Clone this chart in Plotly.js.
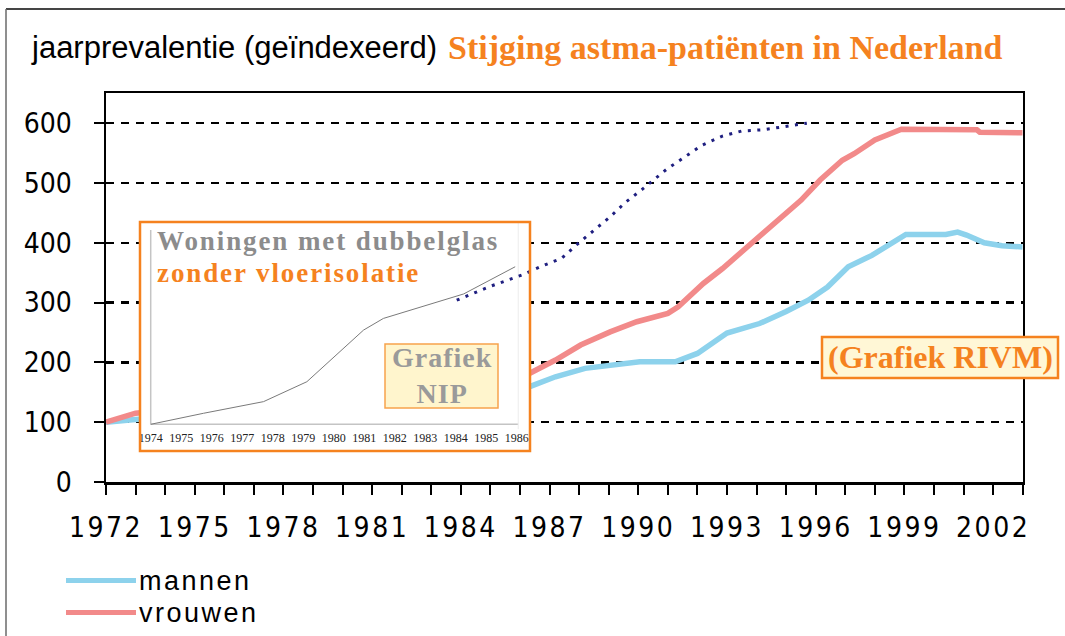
<!DOCTYPE html>
<html>
<head>
<meta charset="utf-8">
<script src="https://cdn.plot.ly/plotly-3.0.1.min.js"></script>
<style>
  html, body { margin: 0; padding: 0; background: #ffffff; }
  #chart { width: 1065px; height: 636px; }
  .xaxislayer-above .xtick text { letter-spacing: 2.5px; }
</style>
</head>
<body>
<div id="chart"></div>
<script>
// ---------- data ----------
// RIVM: yearly prevalence of asthma (indexed, 1972 = 100)
const vrouwenJaar = [1972, 1972.5, 1973.0, 1986.3, 1987.2, 1988.05, 1989.05, 1989.95, 1991.0, 1991.35, 1992.2, 1992.85, 1994.0, 1994.75, 1995.5, 1996.15, 1996.9, 1997.3, 1998.0, 1998.9, 2001.45, 2001.55, 2003];
const vrouwen     = [100, 107, 115, 181, 204, 229, 251, 268, 282, 293, 332, 357, 407, 438, 471, 505, 538, 549, 572, 590, 589, 585, 584];

const mannenJaar  = [1972, 1972.9, 1986.3, 1987.2, 1988.2, 1989.05, 1990.05, 1991.25, 1992.0, 1993.0, 1994.1, 1995.0, 1995.75, 1996.4, 1997.1, 1997.9, 1998.55, 1999.05, 2000.4, 2000.8, 2001.1, 2001.4, 2001.7, 2002.3, 2003];
const mannen      = [100, 104, 159, 176, 190, 196, 201, 201, 215, 249, 265, 285, 304, 326, 360, 379, 399, 414, 414, 418, 413, 406, 400, 395, 393];

// dotted continuation of "woningen met dubbelglas" drawn on the RIVM scale
const glasJaar    = [1983.86, 1985.04, 1986.06, 1986.73, 1987.41, 1987.92, 1988.48, 1989.04, 1989.55, 1990.12, 1990.96, 1991.58, 1992.15, 1992.82, 1993.5, 1994.23, 1994.96, 1995.7];
const glasWaarde  = [304, 328, 346, 361, 374, 397, 420, 443, 467, 489, 523, 544, 563, 578, 587, 589, 595, 600];

// NIP inset: houses with double glazing and no floor insulation (unlabelled scale)
const nipJaar     = [1974, 1975.73, 1977.7, 1979.12, 1980.98, 1981.63, 1984.26, 1985.57, 1985.95];
const nipWaarde   = [0, 6.8, 14.0, 26.3, 58.2, 65.4, 80.5, 93.2, 97.3];

const xTickStart  = 1972;   // main x labels every 3 years
const yTicks      = [0, 100, 200, 300, 400, 500, 600];
const nipTicks    = [1974, 1975, 1976, 1977, 1978, 1979, 1980, 1981, 1982, 1983, 1984, 1985, 1986];

// ---------- styling helpers ----------
const W = 1065, H = 636;
const X = p => p / W;
const Y = p => 1 - p / H;
const ORANGE = '#F5821F';
const PINK = '#F28A8A';
const BLUE = '#8DD2EC';
const SANS = 'Liberation Sans, Arial, sans-serif';
const NARROW = 'Liberation Sans Narrow, Arial Narrow, DejaVu Sans Condensed, sans-serif';
const SERIF = 'Liberation Serif, Times New Roman, serif';
const spaced = (t, px) => '<span style="letter-spacing:' + px + 'px">' + t + '</span>';

const traces = [
  { x: mannenJaar, y: mannen, type: 'scatter', mode: 'lines', name: 'mannen',
    line: { color: BLUE, width: 5.5 }, xaxis: 'x', yaxis: 'y', hoverinfo: 'skip' },
  { x: vrouwenJaar, y: vrouwen, type: 'scatter', mode: 'lines', name: 'vrouwen',
    line: { color: PINK, width: 5.5 }, xaxis: 'x', yaxis: 'y', hoverinfo: 'skip' },
  { x: nipJaar, y: nipWaarde, type: 'scatter', mode: 'lines', name: 'NIP',
    line: { color: '#7a7a7a', width: 1 }, xaxis: 'x2', yaxis: 'y2', hoverinfo: 'skip' },
  { x: glasJaar, y: glasWaarde, type: 'scatter', mode: 'lines', name: 'dubbelglas',
    line: { color: '#1f1f80', width: 3, dash: '3px,6.5px' }, xaxis: 'x3', yaxis: 'y3', hoverinfo: 'skip' }
];

const mainX = [X(106), X(1022.7)];
const mainY = [Y(482), Y(93.3)];

const layout = {
  width: W, height: H,
  margin: { l: 0, r: 0, t: 0, b: 0 },
  paper_bgcolor: '#ffffff',
  plot_bgcolor: 'rgba(0,0,0,0)',
  showlegend: false,
  xaxis: {
    domain: mainX, range: [1972, 2003], tick0: xTickStart, dtick: 3,
    ticks: 'outside', ticklen: 10, tickwidth: 2, tickcolor: '#000',
    showline: true, linewidth: 2.5, linecolor: '#000', mirror: true,
    showgrid: false, zeroline: false, ticklabelstandoff: 9,
    tickfont: { family: NARROW, size: 28, color: '#000' },
    minor: { tick0: 1972, dtick: 1, ticks: 'outside', ticklen: 10, tickwidth: 2, tickcolor: '#000', showgrid: false },
    fixedrange: true
  },
  yaxis: {
    domain: mainY, range: [0, 650], tickvals: yTicks,
    ticks: 'outside', ticklen: 10, tickwidth: 2, tickcolor: '#000',
    showline: true, linewidth: 2.5, linecolor: '#000', mirror: true,
    showgrid: true, gridcolor: '#000', gridwidth: 2.5, griddash: '8px,7px',
    zeroline: false, ticklabelstandoff: 16,
    tickfont: { family: NARROW, size: 28, color: '#000' },
    fixedrange: true
  },
  xaxis2: {
    domain: [X(140), X(530)], range: [1973.649, 1986.436], anchor: 'free', position: Y(424.3),
    tickvals: nipTicks, ticks: '', showline: false, showgrid: false, zeroline: false,
    ticklabelstandoff: 5,
    tickfont: { family: SERIF, size: 12, color: '#222' }, fixedrange: true
  },
  yaxis2: {
    domain: [Y(451), Y(222)], range: [-16.49, 124.94], anchor: 'x2', visible: false, fixedrange: true
  },
  xaxis3: { domain: mainX, range: [1972, 2003], anchor: 'y3', visible: false, fixedrange: true },
  yaxis3: { domain: mainY, range: [0, 650], anchor: 'x3', visible: false, fixedrange: true },
  shapes: [
    // white background of the NIP inset (drawn inside the inset subplot, above the main traces)
    { type: 'rect', xref: 'x2', yref: 'y2', x0: 1973, x1: 1987, y0: -30, y1: 140,
      fillcolor: '#ffffff', line: { width: 0 }, layer: 'below' },
    // inset axis lines
    { type: 'line', xref: 'x2', yref: 'y2', x0: 1974, x1: 1986.05, y0: 0, y1: 0,
      line: { color: '#c4c4c4', width: 1.5 }, layer: 'below' },
    { type: 'line', xref: 'x2', yref: 'y2', x0: 1974, x1: 1974, y0: 0, y1: 120,
      line: { color: '#c4c4c4', width: 1.5 }, layer: 'below' },
    { type: 'line', xref: 'x2', yref: 'y2', x0: 1986.05, x1: 1986.05, y0: -3, y1: 125,
      line: { color: '#ececec', width: 1 }, layer: 'below' },
    // inset orange frame
    { type: 'rect', xref: 'paper', yref: 'paper', x0: X(140), x1: X(530), y0: Y(451), y1: Y(222),
      line: { color: ORANGE, width: 2.5 }, fillcolor: 'rgba(0,0,0,0)', layer: 'above' },
    // "Grafiek NIP" box
    { type: 'rect', xref: 'paper', yref: 'paper', x0: X(385), x1: X(498), y0: Y(408), y1: Y(344),
      line: { color: '#F7A34C', width: 1.5 }, fillcolor: '#FFF5CD', layer: 'above' },
    // "(Grafiek RIVM)" box
    { type: 'rect', xref: 'paper', yref: 'paper', x0: X(822), x1: X(1058), y0: Y(378), y1: Y(337),
      line: { color: ORANGE, width: 2.5 }, fillcolor: '#FFF7D6', layer: 'above' },
    // legend samples
    { type: 'line', xref: 'paper', yref: 'paper', x0: X(66), x1: X(136), y0: Y(580.5), y1: Y(580.5),
      line: { color: BLUE, width: 5 }, layer: 'above' },
    { type: 'line', xref: 'paper', yref: 'paper', x0: X(66), x1: X(136), y0: Y(612.5), y1: Y(612.5),
      line: { color: PINK, width: 5 }, layer: 'above' },
    // outer frame (top and left)
    { type: 'line', xref: 'paper', yref: 'paper', x0: X(6), x1: 1, y0: Y(9), y1: Y(9),
      line: { color: '#454545', width: 2 }, layer: 'above' },
    { type: 'line', xref: 'paper', yref: 'paper', x0: X(6), x1: X(6), y0: Y(9), y1: 0,
      line: { color: '#6a6a6a', width: 1.5 }, layer: 'above' }
  ],
  annotations: [
    { text: 'jaarprevalentie (geïndexeerd)', xref: 'paper', yref: 'paper', x: X(29), y: Y(47),
      xanchor: 'left', yanchor: 'middle', showarrow: false,
      font: { family: SANS, size: 31, color: '#000' } },
    { text: 'Stijging astma-patiënten in Nederland', xref: 'paper', yref: 'paper', x: X(446), y: Y(47),
      xanchor: 'left', yanchor: 'middle', showarrow: false,
      font: { family: SERIF, size: 34, color: ORANGE, weight: 'bold' } },
    { text: spaced('Woningen met dubbelglas', 1.9), xref: 'paper', yref: 'paper', x: X(155), y: Y(241),
      xanchor: 'left', yanchor: 'middle', showarrow: false,
      font: { family: SERIF, size: 27, color: '#8c8c8c', weight: 'bold' } },
    { text: spaced('zonder vloerisolatie', 1.9), xref: 'paper', yref: 'paper', x: X(155), y: Y(273),
      xanchor: 'left', yanchor: 'middle', showarrow: false,
      font: { family: SERIF, size: 27, color: ORANGE, weight: 'bold' } },
    { text: spaced('Grafiek', 1) + '<br>' + spaced('NIP', 1), xref: 'paper', yref: 'paper', x: X(441.5), y: Y(375),
      xanchor: 'center', yanchor: 'middle', showarrow: false, align: 'center',
      font: { family: SERIF, size: 28, color: '#9a9a9a', weight: 'bold' } },
    { text: '(Grafiek RIVM)', xref: 'paper', yref: 'paper', x: X(940), y: Y(357),
      xanchor: 'center', yanchor: 'middle', showarrow: false,
      font: { family: SERIF, size: 32, color: ORANGE, weight: 'bold' } },
    { text: spaced('mannen', 2.5), xref: 'paper', yref: 'paper', x: X(137), y: Y(581),
      xanchor: 'left', yanchor: 'middle', showarrow: false,
      font: { family: SANS, size: 27, color: '#000' } },
    { text: spaced('vrouwen', 2.5), xref: 'paper', yref: 'paper', x: X(137), y: Y(613),
      xanchor: 'left', yanchor: 'middle', showarrow: false,
      font: { family: SANS, size: 27, color: '#000' } }
  ]
};

Plotly.newPlot('chart', traces, layout, { displayModeBar: false, staticPlot: true });
</script>
</body>
</html>
